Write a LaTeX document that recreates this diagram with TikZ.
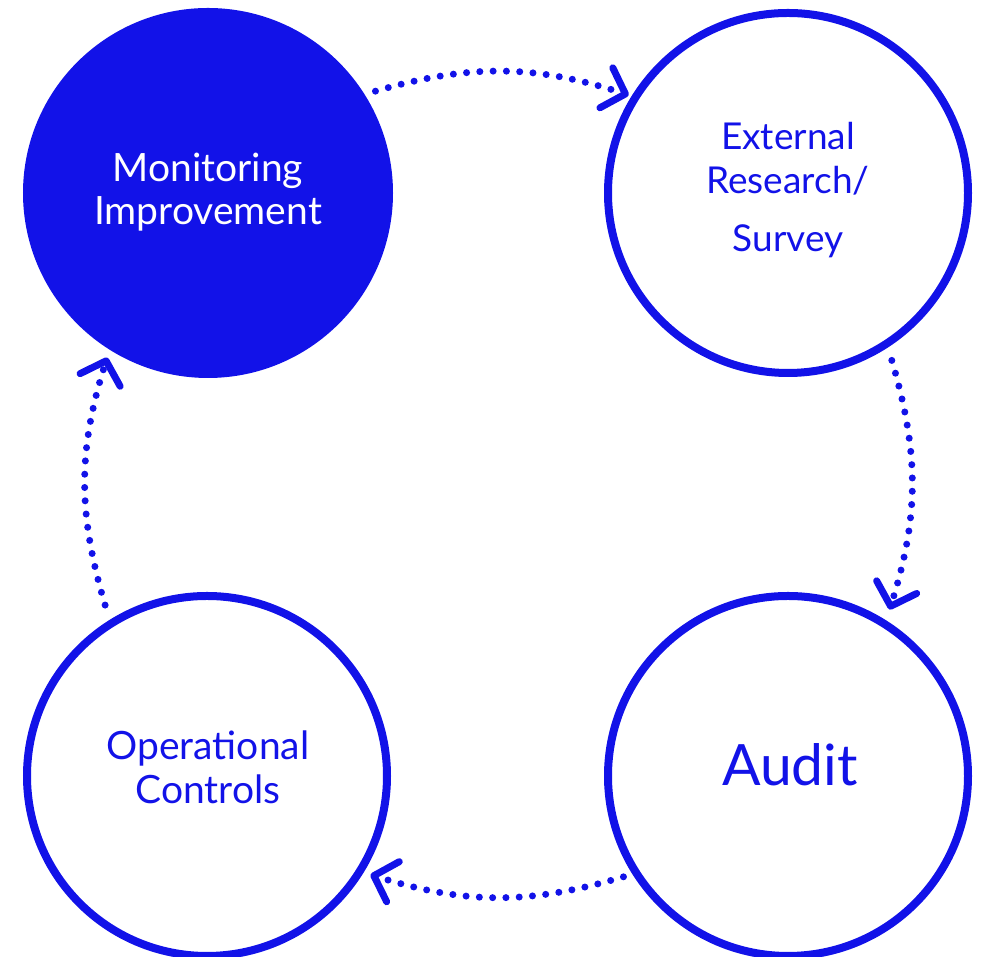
\documentclass[tikz,border=0pt]{standalone}
\usepackage{fontspec}
\setmainfont{Lato}
\usepackage{xcolor}
\usetikzlibrary{arrows.meta,calc,positioning}
\definecolor{cycleblue}{RGB}{18,18,232}
\tikzset{
  stage/.style={circle, draw=cycleblue, line width=8pt, minimum size=360pt, inner sep=0pt},
  stagefill/.style={stage, fill=cycleblue, minimum size=362pt},
  flow/.style={draw=cycleblue, line width=7pt, line cap=round, dash pattern=on 0pt off 13.3pt,
    -{Straight Barb[length=20pt,width=42pt,line width=7pt,round]}},
  lbl/.style={text=cycleblue, align=center}
}

\begin{document}
\begin{tikzpicture}[x=1pt,y=1pt]
		\useasboundingbox (0,0) rectangle (989,957);
		% the four stages
		\node [stagefill] (mon) at (208,764) {};
		\node [stage] (ext) at (788,764) {};
		\node [stage] (aud) at (788,181) {};
		\node [stage] (ops) at (207,181) {};
		% labels
		\node [lbl, text=white, font=\fontsize{39}{43}\selectfont] (montxt) at (208,765) {Monitoring\\Improvement};
		\node [lbl, font=\fontsize{37}{44}\selectfont] (exttxt) at (788,767) {External\\Research/\\[14pt]Survey};
		\node [lbl, font=\fontsize{39}{44}\selectfont] (opstxt) at (208,190) {Operational\\Controls};
		\node [lbl, anchor=base, font=\fontsize{57}{60}\selectfont] (audtxt) at (790,171) {Audit};
		% dotted arrows between the stages
		\draw [flow] ($(mon)+(31.3:196)$) to[bend left=17] ($(ext)+(148.4:187)$);
		\draw [flow] ($(ext)+(-58.2:197)$) to[bend left=17] ($(aud)+(58.6:195)$);
		\draw [flow] ($(aud)+(211.5:193)$) to[bend left=17] ($(ops)+(-31.1:191)$);
		\draw [flow] ($(ops)+(120.8:199)$) to[bend left=17] ($(mon)+(238.5:193)$);
	\end{tikzpicture}
\end{document}
